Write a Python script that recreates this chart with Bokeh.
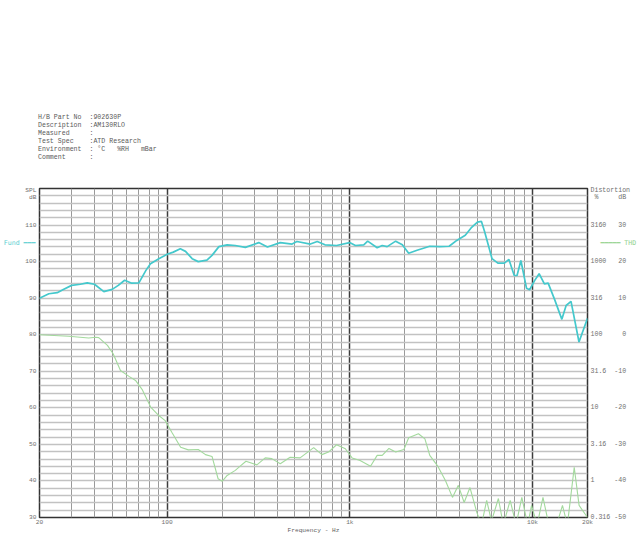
from bokeh.plotting import figure
from bokeh.layouts import column
from bokeh.models import FixedTicker, LinearAxis, Range1d, Div
from bokeh.embed import file_html
from bokeh.resources import INLINE

# ---------------- data ----------------
fund_freq = [20, 22.5, 25, 27, 30, 33.5, 36.5, 40, 45, 50, 54, 58.5, 64, 70, 76.5, 81, 90,
             100, 108, 118, 126, 137, 148, 165, 176, 192, 213, 236, 268, 317, 354, 416,
             483, 513, 608, 663, 731, 846, 997, 1073, 1192, 1252, 1411, 1504, 1601, 1782,
             1938, 2099, 2334, 2739, 3098, 3496, 3850, 4284, 4611, 4994, 5254, 5474, 6003,
             6460, 7019, 7430, 7940, 8227, 8637, 9274, 9640, 10265, 10870, 11613, 12180,
             13220, 14477, 15277, 16249, 17967, 20000]
fund_db = [90.0, 91.2, 91.5, 92.4, 93.5, 93.8, 94.2, 93.8, 91.8, 92.4, 93.5, 94.9, 94.1,
           94.2, 97.6, 99.4, 100.8, 102.0, 102.6, 103.5, 102.8, 100.8, 100.0, 100.4, 101.7,
           104.1, 104.6, 104.4, 103.9, 105.2, 104.0, 105.2, 104.8, 105.5, 104.8, 105.5,
           104.6, 104.4, 105.2, 104.4, 104.6, 105.6, 103.8, 104.4, 104.1, 105.6, 104.6,
           102.3, 103.1, 104.2, 104.1, 104.2, 105.8, 107.2, 109.2, 110.8, 111.0, 108.1,
           100.8, 99.6, 99.6, 100.6, 96.2, 96.2, 100.3, 92.7, 92.3, 94.8, 96.7, 93.9, 94.1,
           89.6, 84.2, 88.0, 89.1, 78.0, 84.5]

thd_freq = [20, 28.9, 37.2, 40.6, 42.2, 47.1, 50.6, 55.5, 61.8, 67.1, 73.2, 81.2, 90, 97.5,
            106, 118.5, 130.6, 148, 162, 176, 190, 200, 213, 236, 250, 270, 310, 344, 374,
            416, 471, 534, 634, 703, 764, 846, 945, 1029, 1138, 1298, 1411, 1504, 1637,
            1782, 1977, 2099, 2374, 2576, 2739, 3015, 3336, 3646, 3926, 4224, 4546, 4955,
            5260, 5612, 5961, 6505, 6920, 7548, 8123, 8740, 9412, 9880, 10600, 11410,
            12290, 13550, 14590, 15520, 16920, 17990, 20000]
thd_db = [0.0, -0.4, -0.9, -0.7, -0.8, -2.9, -5.2, -9.8, -11.4, -12.5, -15.1, -19.8, -22.1,
          -23.5, -26.7, -30.8, -31.5, -31.4, -32.8, -33.3, -39.4, -40.1, -38.5, -37.1, -36.0,
          -34.6, -35.6, -33.7, -33.9, -35.3, -33.5, -33.7, -30.9, -32.8, -32.1, -30.1, -31.2,
          -33.7, -34.4, -36.0, -33.0, -33.0, -31.1, -32.1, -31.4, -28.2, -27.1, -28.5, -33.0,
          -35.8, -39.9, -44.5, -41.2, -45.9, -41.8, -48.6, -52.0, -45.3, -51.0, -44.8, -52.0,
          -45.3, -52.0, -44.5, -52.0, -46.7, -52.0, -44.5, -52.0, -52.0, -46.7, -52.0, -36.3,
          -46.7, -50.0]

x_tick_values = [20, 100, 1000, 10000, 20000]
x_tick_labels = ["20", "100", "1k", "10k", "20k"]
spl_ticks = [30, 40, 50, 60, 70, 80, 90, 100, 110]
thd_ticks = [-50, -40, -30, -20, -10, 0, 10, 20, 30]
pct_labels = ["0.316", "1", "3.16", "10", "31.6", "100", "316", "1000", "3160"]
x_grid_major = [100, 1000, 10000]
x_grid_minor = [30, 40, 50, 60, 70, 80, 90, 200, 300, 400, 500, 600, 700, 800, 900,
                2000, 3000, 4000, 5000, 6000, 7000, 8000, 9000]
y_grid_levels = list(range(32, 120, 2))

header_keys = ["H/B Part No", "Description", "Measured", "Test Spec", "Environment", "Comment"]
header_vals = ["902630P", "AM130RLO", "", "ATD Research", " \u00b0C   %RH   mBar", ""]

NB = "\u00a0"
FONT = "Liberation Mono"
CYAN = "#44c8cc"
GREEN = "#a3d99d"
TXT = "#707070"

# header block above the chart
header_lines = [(k.ljust(13) + ":" + v).replace(" ", NB) for k, v in zip(header_keys, header_vals)]
header = Div(text="<br>".join(header_lines), width=639, height=170,
             styles={"font-family": "'Liberation Mono', monospace", "font-size": "6.6px",
                     "line-height": "7.9px", "color": "#5a5a5a", "padding-top": "114px",
                     "padding-left": "38px", "margin": "0", "box-sizing": "border-box",
                     "white-space": "nowrap"})

p = figure(width=639, height=366, x_axis_type="log", x_range=(20, 20000), y_range=(30, 120),
           output_backend="svg", toolbar_location=None,
           min_border_left=39, min_border_right=52, min_border_top=18, min_border_bottom=19)
p.extra_y_ranges = {"thd": Range1d(-50, 40)}
p.outline_line_color = "#333333"
p.outline_line_width = 1.5
p.background_fill_color = "white"
p.border_fill_color = "white"

# grids
p.xgrid.ticker = FixedTicker(ticks=x_grid_major, minor_ticks=x_grid_minor)
p.xgrid.grid_line_color = "#3c3c3c"
p.xgrid.grid_line_width = 1.5
p.xgrid.minor_grid_line_color = "#9a9a9a"
p.xgrid.minor_grid_line_width = 1
p.ygrid.ticker = FixedTicker(ticks=y_grid_levels)
p.ygrid.grid_line_color = "#c2c2c2"
p.ygrid.grid_line_width = 1.4


def style_axis(ax, standoff, size="6.2px", color=TXT, font=FONT):
    ax.axis_line_color = None
    ax.major_tick_line_color = None
    ax.minor_tick_line_color = None
    ax.major_tick_out = 0
    ax.major_tick_in = 0
    ax.minor_tick_out = 0
    ax.minor_tick_in = 0
    ax.major_label_text_font = font
    ax.major_label_text_font_size = size
    ax.major_label_text_color = color
    ax.major_label_standoff = standoff


# bottom axis
p.xaxis.ticker = FixedTicker(ticks=x_tick_values)
p.xaxis.major_label_overrides = dict(zip(x_tick_values, x_tick_labels))
style_axis(p.xaxis[0], 1)
p.xaxis.axis_label = "Frequency - Hz"
p.xaxis.axis_label_text_font = FONT
p.xaxis.axis_label_text_font_size = "6.2px"
p.xaxis.axis_label_text_font_style = "normal"
p.xaxis.axis_label_text_color = "#606060"
p.xaxis.axis_label_standoff = -2

# left axis: SPL
spl_caption = {119.4: "SPL", 117.5: "dB"}
p.yaxis.ticker = FixedTicker(ticks=spl_ticks + list(spl_caption))
p.yaxis.major_label_overrides = spl_caption
style_axis(p.yaxis[0], 3)

# left key for the fundamental curve
fund_key_level = 105.2
ax_fund = LinearAxis(ticker=FixedTicker(ticks=[fund_key_level]),
                     major_label_overrides={fund_key_level: "Fund" + NB + "\u2501" * 3})
style_axis(ax_fund, -13, size="6.6px", color="#5ccfd2", font="DejaVu Sans Mono")
p.add_layout(ax_fund, "left")

# right axis: distortion % and dB
right_labels = {t: (f"{pc:<6}{t:>3}").replace(" ", NB) for t, pc in zip(thd_ticks, pct_labels)}
right_labels[39.4] = "Distortion"
right_labels[37.5] = NB + "%" + NB * 5 + "dB"
ax_pct = LinearAxis(y_range_name="thd", ticker=FixedTicker(ticks=thd_ticks + [39.4, 37.5]),
                    major_label_overrides=right_labels)
style_axis(ax_pct, 3, size="6.6px")
p.add_layout(ax_pct, "right")

# right key for the THD curve
thd_key_level = 25.2
ax_thd = LinearAxis(y_range_name="thd", ticker=FixedTicker(ticks=[thd_key_level]),
                    major_label_overrides={thd_key_level: "\u2501" * 5 + NB + "THD"})
style_axis(ax_thd, -33, size="6.6px", color="#93d28d", font="DejaVu Sans Mono")
p.add_layout(ax_thd, "right")

# curves
p.line(thd_freq, thd_db, y_range_name="thd", line_color=GREEN, line_width=1.1)
p.line(fund_freq, fund_db, line_color=CYAN, line_width=1.7)

layout = column(header, p, spacing=0)
open("out.html", "w").write(file_html(layout, INLINE))
